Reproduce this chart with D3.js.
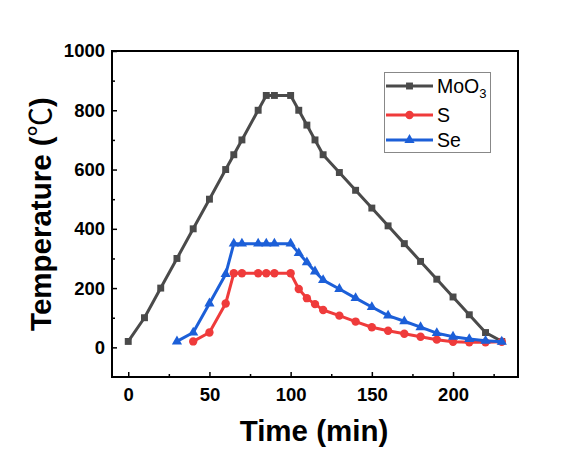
<!DOCTYPE html>
<html>
<head>
<meta charset="utf-8">
<script src="https://cdn.jsdelivr.net/npm/d3@7/dist/d3.min.js"></script>
<style>
  html, body { margin: 0; padding: 0; background: #ffffff; }
  svg { display: block; font-family: "Liberation Sans", Arial, sans-serif; }
</style>
</head>
<body>
<svg id="chart" width="587" height="450"></svg>
<script>
// ---- data ----
const moo3Time = [0,10,20,30,40,50,60,65,70,80,85,90,100,105,110,115,120,130,140,150,160,170,180,190,200,210,220,230];
const moo3Temp = [20,100,200,300,400,500,600,650,700,800,850,850,850,800,750,700,650,590,530,470,410,350,290,230,170,110,50,20];

const sTime = [40,50,60,65,70,80,85,90,100,105,110,115,120,130,140,150,160,170,180,190,200,210,220,230];
const sTemp = [20,50,148,250,250,250,250,250,250,197,166,146,126,107,87,68,56,46,36,26,19,17,17,19];

const seTime = [30,40,50,60,65,70,80,85,90,100,105,110,115,120,130,140,150,160,170,180,190,200,210,220,230];
const seTemp = [20,50,148,247,350,350,350,350,350,350,318,287,256,227,197,166,136,107,88,68,48,36,28,22,19];

const seriesNames = ["MoO\u2083", "S", "Se"];
const xMajorTicks = [0,50,100,150,200];
const xMinorTicks = [25,75,125,175,225];
const yMajorTicks = [0,200,400,600,800,1000];
const yMinorTicks = [100,300,500,700,900];

const colors = { moo3: "#4a4a4a", s: "#ef3b3b", se: "#1c5fd8" };

// ---- layout ----
const svg = d3.select("#chart");
const L = 112, R = 518, T = 51, B = 377;
const x = d3.scaleLinear().domain([-10, 240]).range([L, R]);
const y = d3.scaleLinear().domain([-100, 1000]).range([B, T]);

// axes
const xAxis = svg.append("g").attr("transform", `translate(0,${B})`)
  .call(d3.axisBottom(x).tickValues(xMajorTicks).tickSize(-5).tickPadding(11).tickFormat(d3.format("d")));
const yAxis = svg.append("g").attr("transform", `translate(${L},0)`)
  .call(d3.axisLeft(y).tickValues(yMajorTicks).tickSize(-5).tickPadding(7).tickFormat(d3.format("d")));
[xAxis, yAxis].forEach(g => {
  g.select(".domain").remove();
  g.selectAll(".tick line").attr("stroke", "#000").attr("stroke-width", 1.5);
  g.selectAll(".tick text").attr("fill", "#000").style("font-size", "18.5px").style("font-weight", "bold")
    .style("font-family", "'Liberation Sans', Arial, sans-serif");
});
svg.append("g").attr("transform", `translate(0,${B})`)
  .call(d3.axisBottom(x).tickValues(xMinorTicks).tickSize(-3).tickFormat(""))
  .call(g => { g.select(".domain").remove(); g.selectAll("line").attr("stroke", "#000").attr("stroke-width", 1.5); });
svg.append("g").attr("transform", `translate(${L},0)`)
  .call(d3.axisLeft(y).tickValues(yMinorTicks).tickSize(-3).tickFormat(""))
  .call(g => { g.select(".domain").remove(); g.selectAll("line").attr("stroke", "#000").attr("stroke-width", 1.5); });

// frame
svg.append("rect").attr("x", L).attr("y", T).attr("width", R - L).attr("height", B - T)
  .attr("fill", "none").attr("stroke", "#000").attr("stroke-width", 2);

// series
const line = d3.line().x(d => x(d[0])).y(d => y(d[1]));
function drawSeries(times, temps, color, symbolType, size) {
  const pts = times.map((t, i) => [t, temps[i]]);
  svg.append("path").datum(pts).attr("d", line).attr("fill", "none")
    .attr("stroke", color).attr("stroke-width", 3).attr("stroke-linejoin", "round");
  svg.append("g").selectAll("path").data(pts).join("path")
    .attr("transform", d => `translate(${x(d[0])},${y(d[1])})`)
    .attr("d", d3.symbol().type(symbolType).size(size))
    .attr("fill", color);
}
drawSeries(moo3Time, moo3Temp, colors.moo3, d3.symbolSquare, 48);
drawSeries(sTime, sTemp, colors.s, d3.symbolCircle, 55);
drawSeries(seTime, seTemp, colors.se, d3.symbolTriangle, 45);

// legend
const lg = svg.append("g");
lg.append("rect").attr("x", 384.5).attr("y", 72.5).attr("width", 106).attr("height", 80)
  .attr("fill", "#fff").attr("stroke", "#888").attr("stroke-width", 1);
const legendItems = [
  { name: seriesNames[0], color: colors.moo3, sym: d3.symbolSquare, size: 48, yy: 86 },
  { name: seriesNames[1], color: colors.s, sym: d3.symbolCircle, size: 55, yy: 115 },
  { name: seriesNames[2], color: colors.se, sym: d3.symbolTriangle, size: 45, yy: 140 }
];
legendItems.forEach(it => {
  lg.append("line").attr("x1", 386).attr("x2", 433).attr("y1", it.yy).attr("y2", it.yy)
    .attr("stroke", it.color).attr("stroke-width", 3);
  lg.append("path").attr("transform", `translate(409.5,${it.yy})`)
    .attr("d", d3.symbol().type(it.sym).size(it.size)).attr("fill", it.color);
});
const t0 = lg.append("text").attr("x", 437).attr("y", 86).attr("dy", "0.35em")
  .style("font-size", "19.5px").attr("fill", "#000");
t0.append("tspan").text("MoO");
t0.append("tspan").text("3").style("font-size", "13px").attr("dy", "5");
lg.append("text").attr("x", 437).attr("y", 115).attr("dy", "0.35em").style("font-size", "19.5px").text(seriesNames[1]);
lg.append("text").attr("x", 437).attr("y", 140).attr("dy", "0.35em").style("font-size", "19.5px").text(seriesNames[2]);

// axis titles
svg.append("text").attr("x", (L + R) / 2 - 1).attr("y", 441).attr("text-anchor", "middle")
  .style("font-size", "29.5px").style("font-weight", "bold").text("Time (min)");
const yt = svg.append("text").attr("transform", `translate(51,${(T + B) / 2}) rotate(-90)`).attr("text-anchor", "middle")
  .style("font-size", "29.5px").style("font-weight", "bold");
yt.append("tspan").text("Temperature (");
yt.append("tspan").text("\u2103").style("font-family", "'Noto Sans CJK SC', sans-serif").style("font-weight", "normal");
yt.append("tspan").text(")");
</script>
</body>
</html>
